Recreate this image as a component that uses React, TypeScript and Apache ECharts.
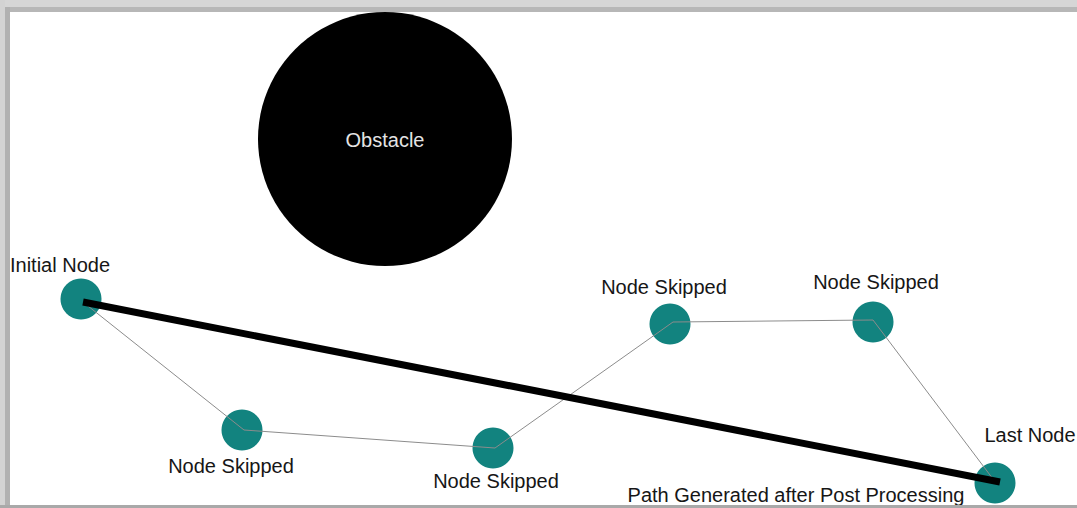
import React, { useEffect, useRef } from "react";
import * as echarts from "echarts";

// Node names and positions (diagram coordinates, px space of the picture)
const nodeNames = ["Initial Node", "Node Skipped", "Node Skipped", "Node Skipped", "Node Skipped", "Last Node"];
const nodeX = [81, 242, 493, 670, 873, 995];
const nodeY = [299, 430, 448, 324, 322, 483];

// Original (pre-processing) path vertices
const pathX = [83, 244, 495, 673, 873, 993];
const pathY = [302, 430, 448, 322, 320, 479];

// Post-processed path (straight line)
const postX = [83, 1000];
const postY = [302, 482];

// Obstacle
const obstacleX = [385];
const obstacleY = [139];

const FONT = "'Liberation Sans', Arial, Helvetica, sans-serif";

const labelOffsets: [number, number][] = [
  [-21, -34],
  [-11, 36],
  [3, 33],
  [-6, -37],
  [3, -40],
  [35, -48],
];

export default function App() {
  const ref = useRef<HTMLDivElement>(null);
  useEffect(() => {
    if (!ref.current) return;
    document.body.style.margin = "0";
    document.body.style.overflow = "hidden";
    const chart = echarts.init(ref.current, undefined, { renderer: "svg" });
    const nodes = nodeX.map((x, i) => ({
      value: [x, nodeY[i]],
      name: nodeNames[i],
      label: {
        show: true,
        position: "inside",
        offset: labelOffsets[i],
        formatter: nodeNames[i],
        color: "#161616",
        fontSize: 20,
        fontFamily: FONT,
        opacity: 1,
      },
    }));
    const option = {
      animation: false,
      backgroundColor: "#ffffff",
      grid: { left: 0, right: 0, top: 0, bottom: 0 },
      xAxis: { type: "value", min: 0, max: 1077, show: false },
      yAxis: { type: "value", min: 0, max: 508, inverse: true, show: false },
      graphic: [
        { type: "rect", shape: { x: 0, y: 0, width: 1077, height: 7 }, style: { fill: "#d6d6d6" }, z: 100 },
        { type: "rect", shape: { x: 5, y: 7, width: 1072, height: 5 }, style: { fill: "#b7b7b7" }, z: 100 },
        { type: "rect", shape: { x: 0, y: 0, width: 5, height: 508 }, style: { fill: "#d3d3d3" }, z: 100 },
        { type: "rect", shape: { x: 5, y: 7, width: 5, height: 498 }, style: { fill: "#b1b1b1" }, z: 100 },
        { type: "rect", shape: { x: 0, y: 505, width: 1077, height: 3 }, style: { fill: "#a9a9a9" }, z: 100 },
      ],
      series: [
        {
          type: "scatter",
          data: obstacleX.map((x, i) => [x, obstacleY[i]]),
          symbol: "circle",
          symbolSize: 254,
          itemStyle: { color: "#000000", opacity: 1 },
          label: {
            show: true,
            position: "inside",
            formatter: "Obstacle",
            color: "#e4e4e4",
            fontSize: 20,
            fontFamily: FONT,
            offset: [0, 1],
          },
          z: 1,
        },
        {
          type: "scatter",
          data: nodes,
          symbol: "circle",
          symbolSize: 41,
          itemStyle: { color: "#12837f", opacity: 1 },
          z: 2,
        },
        {
          type: "line",
          data: pathX.map((x, i) => [x, pathY[i]]),
          symbol: "none",
          lineStyle: { color: "#8c8c8c", width: 1 },
          z: 3,
        },
        {
          type: "line",
          data: postX.map((x, i) => ({
            value: [x, postY[i]],
            label:
              i === 1
                ? {
                    show: true,
                    position: "inside",
                    offset: [-204, 13],
                    formatter: "Path Generated after Post Processing",
                    color: "#161616",
                    fontSize: 20,
                    fontFamily: FONT,
                  }
                : { show: false },
          })),
          symbol: "circle",
          symbolSize: 1,
          showSymbol: true,
          itemStyle: { color: "rgba(0,0,0,0)" },
          lineStyle: { color: "#000000", width: 7, cap: "butt" },
          z: 4,
        },
      ],
    };
    chart.setOption(option as any);
    return () => chart.dispose();
  }, []);
  return (
    <div
      ref={ref}
      style={{ position: "fixed", left: 0, top: 0, width: 1077, height: 508, background: "#fff" }}
    />
  );
}
